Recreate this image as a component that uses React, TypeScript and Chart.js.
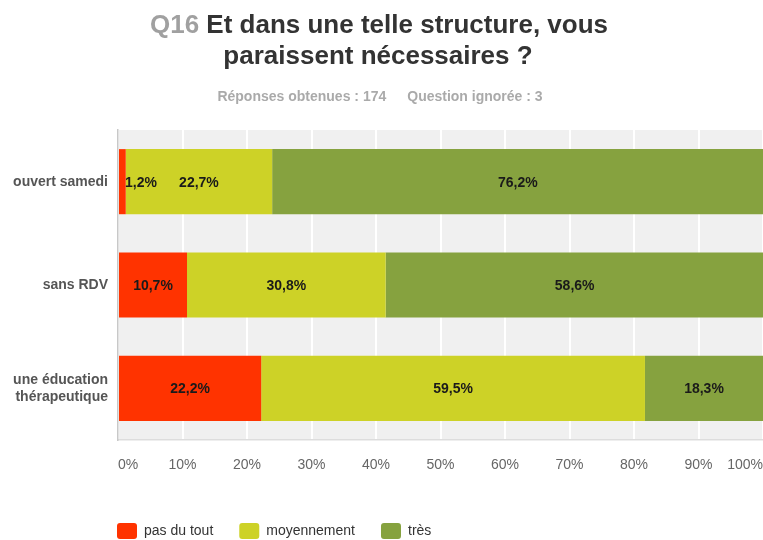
import React, { useEffect, useRef } from "react";
import { Chart, registerables } from "chart.js";

Chart.register(...registerables);

const categories: (string | string[])[] = ["ouvert samedi", "sans RDV", ["une éducation", "thérapeutique"]];
const seriesNames = ["pas du tout", "moyennement", "très"];
const pasDuTout = [1.2, 10.7, 22.2];
const moyennement = [22.7, 30.8, 59.5];
const tres = [76.2, 58.6, 18.3];
const xTicks = [0, 10, 20, 30, 40, 50, 60, 70, 80, 90, 100];
const colors = ["#ff3300", "#cdd227", "#86a23f"];

const FONT = "'Liberation Sans', Arial, Helvetica, sans-serif";

const bgPlugin = {
  id: "bgPlugin",
  beforeDraw(chart: any) {
    const { ctx, chartArea } = chart;
    ctx.save();
    ctx.fillStyle = "#f0f0f0";
    ctx.fillRect(chartArea.left, chartArea.top, chartArea.right - chartArea.left, chartArea.bottom - chartArea.top);
    ctx.restore();
  },
};

const legendPos = {
  id: "legendPos",
  afterLayout(chart: any) {
    const lg = chart.legend;
    if (!lg) return;
    const pad = lg.options.labels.padding;
    lg.left = 117 - pad;
    lg.right = 763;
    lg.top = 523 - pad;
    lg.bottom = 540;
  },
};

const labelsPlugin = {
  id: "labelsPlugin",
  afterDatasetsDraw(chart: any) {
    const { ctx, chartArea } = chart;
    ctx.save();
    ctx.font = `bold 14px ${FONT}`;
    ctx.fillStyle = "#1a1a1a";
    ctx.textBaseline = "middle";
    ctx.textAlign = "left";
    chart.data.datasets.forEach((ds: any, di: number) => {
      const meta = chart.getDatasetMeta(di);
      meta.data.forEach((bar: any, i: number) => {
        const v = ds.data[i];
        const text = String(v).replace(".", ",") + "%";
        const w = ctx.measureText(text).width;
        const cx = (bar.x + bar.base) / 2;
        let left = cx - w / 2;
        if (left < chartArea.left + 7) left = chartArea.left + 7;
        ctx.fillText(text, left, bar.y + 1);
      });
    });
    ctx.restore();
  },
};

const titlePlugin = {
  id: "titlePlugin",
  afterDraw(chart: any) {
    const { ctx } = chart;
    ctx.save();
    ctx.textBaseline = "middle";
    ctx.textAlign = "left";
    ctx.font = `bold 26px ${FONT}`;
    const q = "Q16 ";
    const rest = "Et dans une telle structure, vous";
    const wq = ctx.measureText(q).width;
    const wr = ctx.measureText(rest).width;
    let x = 379 - (wq + wr) / 2;
    ctx.fillStyle = "#a0a0a0";
    ctx.fillText(q, x, 26);
    ctx.fillStyle = "#333333";
    ctx.fillText(rest, x + wq, 26);
    const l2 = "paraissent nécessaires ?";
    const w2 = ctx.measureText(l2).width;
    ctx.fillText(l2, 378 - w2 / 2, 57);

    ctx.font = `bold 14px ${FONT}`;
    ctx.fillStyle = "#aaaaaa";
    const s1 = "Réponses obtenues : 174";
    const s2 = "Question ignorée : 3";
    const ws1 = ctx.measureText(s1).width;
    const ws2 = ctx.measureText(s2).width;
    const gap = 21;
    const sx = 380 - (ws1 + gap + ws2) / 2;
    ctx.fillText(s1, sx, 97);
    ctx.fillText(s2, sx + ws1 + gap, 97);
    ctx.restore();
  },
};

export default function App() {
  const ref = useRef<HTMLCanvasElement | null>(null);
  useEffect(() => {
    document.body.style.margin = "0";
    Chart.defaults.font.family = FONT;
    const data = [pasDuTout, moyennement, tres];
    const chart = new Chart(ref.current!, {
      type: "bar",
      data: {
        labels: categories as any,
        datasets: seriesNames.map((name, i) => ({
          label: name,
          data: data[i],
          backgroundColor: colors[i],
          borderWidth: 0,
          barPercentage: 0.63,
          categoryPercentage: 1,
        })),
      },
      options: {
        indexAxis: "y",
        responsive: false,
        animation: false,
        layout: { padding: { top: 130, left: 0, right: 0, bottom: 0 } },
        scales: {
          x: {
            stacked: true,
            min: 0,
            max: 100,
            afterBuildTicks(scale: any) {
              scale.ticks = xTicks.map((v) => ({ value: v }));
            },
            afterFit(scale: any) {
              scale.height = 48;
              scale.paddingLeft = 0;
              scale.paddingRight = 0;
            },
            ticks: {
              align: "inner",
              padding: 17,
              color: "#666666",
              font: { size: 14 },
              callback: (v: any) => v + "%",
            },
            grid: { color: "#ffffff", lineWidth: 2, drawTicks: false },
            border: { display: true, color: "#dddddd", width: 1.5 },
          },
          y: {
            stacked: true,
            afterFit(scale: any) {
              scale.width = 118;
            },
            ticks: {
              padding: 10,
              color: "#555555",
              font: { size: 14, weight: "bold" },
            },
            grid: { display: false, drawTicks: false },
            border: { display: true, color: "#c8c8c8", width: 1.5 },
          },
        },
        plugins: {
          title: { display: false },
          tooltip: { enabled: false },
          legend: {
            display: true,
            position: "bottom",
            align: "start",
            labels: {
              boxWidth: 20,
              boxHeight: 16,
              padding: 26,
              useBorderRadius: true,
              borderRadius: 3,
              color: "#333333",
              font: { size: 14 },
            },
          },
        },
      },
      plugins: [bgPlugin, legendPos, labelsPlugin, titlePlugin],
    } as any);
    return () => chart.destroy();
  }, []);
  return <canvas ref={ref} width={763} height={540} />;
}
